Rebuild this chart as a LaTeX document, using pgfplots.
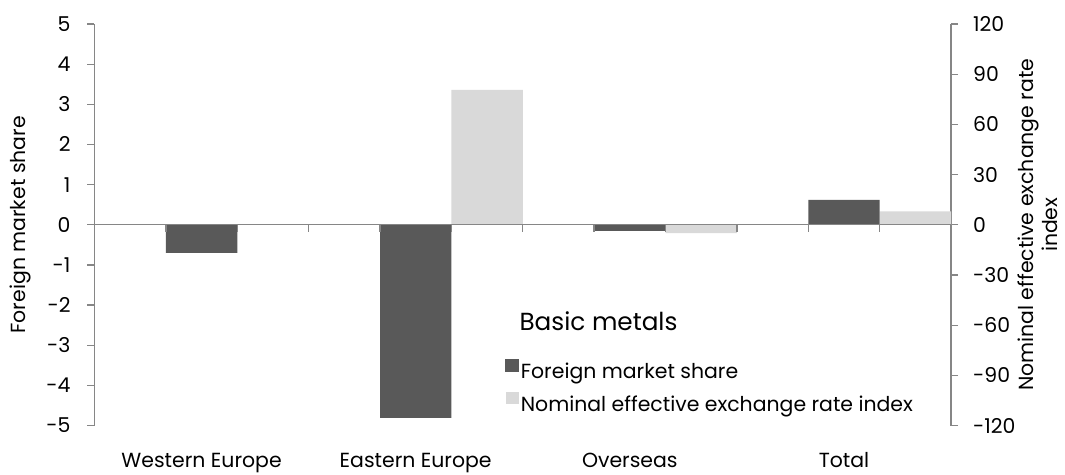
\documentclass[border=0pt]{standalone}
\usepackage{fontspec}
\setmainfont{Poppins}
\usepackage{pgfplots}
\pgfplotsset{compat=1.18}
\definecolor{darkbar}{HTML}{595959}
\definecolor{lightbar}{HTML}{D9D9D9}
\definecolor{axisgray}{HTML}{868686}
\begin{document}
\begin{tikzpicture}[font=\fontsize{20.5}{24}\selectfont]
\path[use as bounding box] (-94.5bp,-49.4bp) rectangle (970.5bp,425.6bp);
% right axis: nominal effective exchange rate index
\begin{axis}[
  at={(0,0)}, anchor=south west,
  scale only axis, width=856.5bp, height=401.6bp,
  xmin=-0.5, xmax=3.5, ymin=-120, ymax=120,
  axis y line*=right, axis x line*=bottom,
  x axis line style={draw=none},
  y axis line style={axisgray, line width=1.3bp, -},
  xtick={0,1,2,3},
  xticklabels={Western Europe, Eastern Europe, Overseas, Total},
  xtick style={draw=none},
  xticklabel style={anchor=base, inner sep=0pt, yshift=-35bp},
  ytick={-120,-90,-60,-30,0,30,60,90,120},
  ytick align=outside, major tick length=7bp,
  ytick style={axisgray, line width=1.3bp},
  yticklabel style={anchor=west, inner sep=0pt, xshift=15bp, /pgf/number format/assume math mode=true},
  ylabel={Nominal effective exchange rate\\index},
  ylabel style={align=center, at={([xshift=87bp]axis description cs:1,0.5)}, anchor=center},
  ybar, bar width=0.33333,
  legend style={at={(0.4796,0.167)}, anchor=north west, draw=none, fill=none, inner sep=0pt,
    row sep=10bp, font=\fontsize{20.5}{24}\selectfont},
  legend cell align=left,
  /tikz/every even column/.append style={column sep=6bp},
]
\addlegendimage{legend image code/.code={\fill[darkbar] (0bp,0bp) rectangle (13bp,12.5bp);}}
\addlegendentry{Foreign market share}
\addplot[fill=lightbar, draw=none, bar shift=0.33333,
  legend image code/.code={\fill[lightbar] (0bp,0bp) rectangle (13bp,12.5bp);}]
  coordinates {(1,80.7) (2,-5.0) (3,8.0)};
\addlegendentry{Nominal effective exchange rate index}
\node[anchor=base west, font=\fontsize{24.8}{29}\selectfont] at (rel axis cs:0.4922,0.2363) {Basic metals};
\end{axis}
% left axis: foreign market share
\begin{axis}[
  at={(0,0)}, anchor=south west,
  scale only axis, width=856.5bp, height=401.6bp,
  xmin=-0.5, xmax=3.5, ymin=-5, ymax=5,
  axis x line=middle, axis y line*=left,
  axis on top,
  axis line style={axisgray, line width=1.3bp, -},
  xtick={-0.5,-0.16667,0.16667,0.5,0.83333,1.16667,1.5,1.83333,2.16667,2.5,2.83333,3.16667,3.5},
  xticklabels={},
  xtick align=outside, ytick align=outside,
  major tick length=7bp,
  tick style={axisgray, line width=1.3bp},
  ytick={-5,-4,-3,-2,-1,0,1,2,3,4,5},
  yticklabel style={anchor=east, inner sep=0pt, xshift=-16.8bp, /pgf/number format/assume math mode=true},
  ylabel={Foreign market share},
  ylabel style={at={([xshift=-74.5bp]axis description cs:0,0.5)}, anchor=center},
  ybar, bar width=0.33333,
]
\addplot[fill=darkbar, draw=none, bar shift=0]
  coordinates {(0,-0.70) (1,-4.81) (2,-0.15) (3,0.62)};
\end{axis}
\end{tikzpicture}
\end{document}
